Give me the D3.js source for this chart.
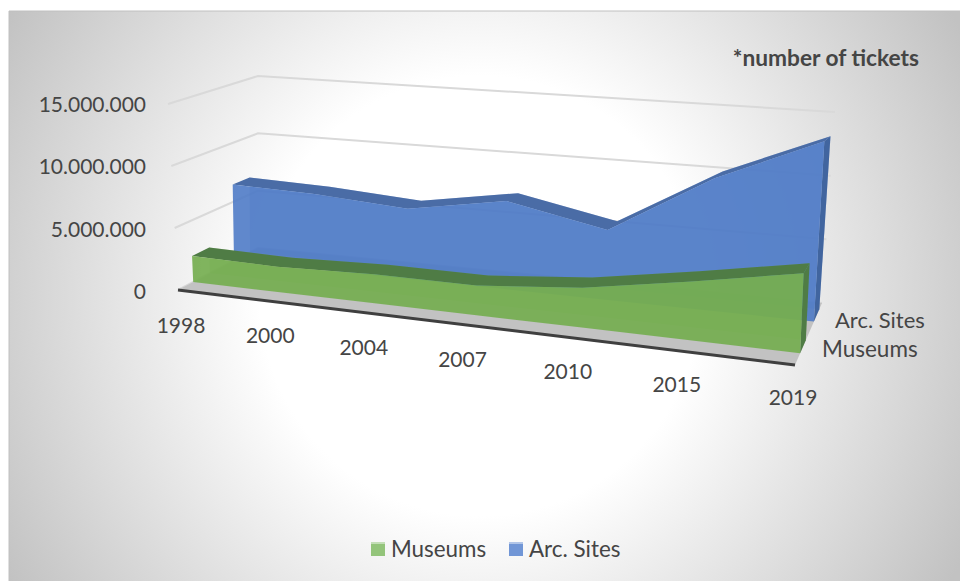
<!DOCTYPE html>
<html><head><meta charset="utf-8">
<script src="https://cdn.jsdelivr.net/npm/d3@7"></script>
<style>html,body{margin:0;padding:0;background:#fff}svg{display:block}text{font-family:Lato,"Open Sans",sans-serif;fill:#454545}</style>
</head><body><svg id="c" width="960" height="581"></svg>
<script>
const categories = ["1998","2000","2004","2007","2010","2015","2019"];
const museums = [2130000,2000000,2230000,2200000,2850000,4070000,5350000];
const arcSites = [6470000,6250000,5700000,7000000,5400000,10000000,13300000];
const yTicks = [0,5000000,10000000,15000000];
const seriesNames = ["Museums","Arc. Sites"];

const svg=d3.select("#c");
const defs=svg.append("defs");
const rg=defs.append("radialGradient").attr("id","bg").attr("gradientUnits","userSpaceOnUse")
  .attr("cx",480).attr("cy",296).attr("r",550);
rg.append("stop").attr("offset","0.4").attr("stop-color","#ffffff");
rg.append("stop").attr("offset","1").attr("stop-color","#c2c2c2");
svg.append("rect").attr("x",9).attr("y",11).attr("width",951).attr("height",570).attr("fill","url(#bg)");
svg.append("path").attr("d",d3.line()([[9,581],[9,11],[960,11]])).attr("fill","none").attr("stroke","#c0c0c0").attr("stroke-width",1);

// 3D projection: corners of the box [category, value, depth]
const corner={
  f0L:[178,290],f0R:[795,365],fTL:[168,104],fTR:[804,133],
  b0L:[258,248],b0R:[822,303],bTL:[258,76],bTR:[835,112]
};
const uScale=d3.scalePow().exponent(1.1).domain([0,categories.length-1]).range([0,1]);
const vScale=d3.scaleLinear().domain([0,15000000]).range([0,1]);
const mix=(a,b,t)=>[a[0]+(b[0]-a[0])*t,a[1]+(b[1]-a[1])*t];
function project(i,val,d){
  const u=uScale(i),v=vScale(val);
  const f=mix(mix(corner.f0L,corner.f0R,u),mix(corner.fTL,corner.fTR,u),v);
  const b=mix(mix(corner.b0L,corner.b0R,u),mix(corner.bTL,corner.bTR,u),v);
  return mix(f,b,d);
}
const poly=d3.line().curve(d3.curveLinearClosed);
const last=categories.length-1;
const idx=d3.range(categories.length);

// gridlines on the walls
const grid=svg.append("g").attr("fill","none").attr("stroke","#d9d9d9").attr("stroke-width",2);
yTicks.forEach(t=>{
  grid.append("path").attr("d",d3.line()([project(0,t,0),project(0,t,1),project(last,t,1)]));
});

// floor
svg.append("path").attr("d",poly([project(0,0,0),project(last,0,0),project(last,0,1),project(0,0,1)])).attr("fill","#c2c2c2");
svg.append("path").attr("d",d3.line()([project(0,0,0),project(last,0,0)])).attr("stroke","#3f3f3f").attr("stroke-width",3).attr("fill","none");

function drawSeries(values,d0,d1,front,top,side,op){
  const g=svg.append("g");
  const upper=d=>idx.map(i=>project(i,values[i],d));
  const lower=d=>idx.map(i=>project(i,0,d)).reverse();
  g.append("path").attr("d",poly([...upper(d1),...lower(d1)])).attr("fill",front).attr("opacity",0.35);
  g.append("path").attr("d",poly([...upper(d0),...upper(d1).reverse()])).attr("fill",top);
  g.append("path").attr("d",poly([project(last,values[last],d0),project(last,values[last],d1),project(last,0,d1),project(last,0,d0)])).attr("fill",side);
  g.append("path").attr("d",poly([...upper(d0),...lower(d0)])).attr("fill",front).attr("opacity",op);
}
drawSeries(arcSites,0.70,0.90,"#4f7bc6","#4a6ca6","#41659f",0.9);
drawSeries(museums,0.19,0.40,"#75ae50","#4f7c45","#4f7c45",0.92);

// value axis
const fmt=d3.formatLocale({decimal:",",thousands:".",grouping:[3],currency:["",""]}).format(",d");
const yAxisScale=d3.scaleLinear().domain([0,15000000]).range([project(0,0,0)[1]+1.5,project(0,15000000,0)[1]]);
const ya=svg.append("g").attr("transform","translate(146,0)")
  .call(d3.axisLeft(yAxisScale).tickValues(yTicks).tickFormat(fmt).tickSize(0).tickPadding(0));
ya.select(".domain").remove();
ya.selectAll("text").attr("font-size",21).style("font-family","Lato,sans-serif").style("fill","#454545").attr("dy","0.35em");

// category labels
const labelNudge=[0,4,0,-4,-5,-5,0];
svg.append("g").selectAll("text").data(categories).join("text")
  .attr("x",(c,i)=>project(i,0,0)[0]+3-5*uScale(i)+labelNudge[i])
  .attr("y",(c,i)=>project(i,0,0)[1]+34.5-3*uScale(i))
  .attr("text-anchor","middle").attr("dominant-baseline","central").attr("font-size",21).text(c=>c);

// series depth labels
svg.append("text").attr("x",835).attr("y",319).attr("dominant-baseline","central").attr("font-size",22).text(seriesNames[1]);
svg.append("text").attr("x",822).attr("y",348).attr("dominant-baseline","central").attr("font-size",22.5).text(seriesNames[0]);

// note
svg.append("text").attr("x",919).attr("y",57).attr("text-anchor","end").attr("dominant-baseline","central").attr("font-size",22.7).attr("font-weight",700).text("*number of tickets");

// legend
const legend=[{n:seriesNames[0],c:"#93c47a",x:371},{n:seriesNames[1],c:"#7196d6",x:509}];
const lg=svg.append("g").selectAll("g").data(legend).join("g").attr("transform",d=>`translate(${d.x},542)`);
lg.append("rect").attr("width",14).attr("height",14).attr("fill",d=>d.c);
lg.append("rect").attr("width",14).attr("height",2).attr("fill","#fff").attr("opacity",0.45);
lg.append("text").attr("x",20).attr("y",6).attr("dominant-baseline","central").attr("font-size",22.4).text(d=>d.n);
</script></body></html>
